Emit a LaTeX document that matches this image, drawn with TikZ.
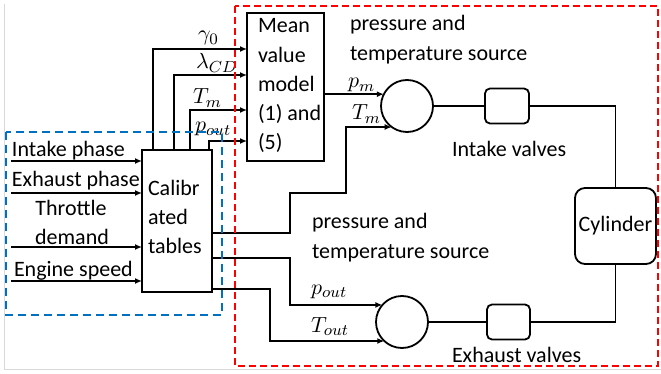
\documentclass[tikz,border=0pt]{standalone}
\usepackage{fontspec}
\setmainfont{Carlito}
\usetikzlibrary{arrows.meta}
\definecolor{myred}{RGB}{255,0,0}
\definecolor{myblue}{RGB}{0,112,192}
\newcommand{\mymth}[1]{{\fontsize{11}{13}\selectfont\scalebox{2}{$#1$}}}
\begin{document}
\begin{tikzpicture}[x=1pt,y=-1pt,
  every node/.style={font=\fontsize{22}{29}\selectfont, inner sep=0pt, outer sep=0pt},
  txt/.style={anchor=base west},
  box/.style={draw, line width=1.8pt},
  roundbox/.style={draw, line width=1.8pt},
  arr/.style={-{Latex[length=7pt,width=6pt]}, line width=1.5pt},
  wire/.style={line width=1.5pt}]
\useasboundingbox (0,0) rectangle (661,374);
% faint page frame
\draw[gray!30, line width=0.8pt] (4,4) -- (4,369) -- (661,369);

% blocks
\node[box, minimum width=70pt, minimum height=142pt] (calib) at (177,221) {};
\node[box, minimum width=77pt, minimum height=148pt] (mvm) at (285.5,87) {};
\node[roundbox, circle, minimum size=52pt] (c1) at (407,106) {};
\node[roundbox, circle, minimum size=52pt] (c2) at (402,322) {};
\node[roundbox, rounded corners=5pt, minimum width=44pt, minimum height=35pt] (v1) at (507,106) {};
\node[roundbox, rounded corners=5pt, minimum width=43pt, minimum height=35pt] (v2) at (508.5,322) {};
\node[roundbox, rounded corners=10pt, minimum width=81pt, minimum height=76pt] (cyl) at (615.5,226) {Cylinder};

% texts in boxes
\node[txt] (m1) at (258,33) {Mean};
\node[txt] (m2) at (258,63) {value};
\node[txt] (m3) at (258,92) {model};
\node[txt] (m4) at (258,121) {(1) and};
\node[txt] (m5) at (258,150) {(5)};
\node[txt] (k1) at (148,196) {Calibr};
\node[txt] (k2) at (148,225) {ated};
\node[txt] (k3) at (148,253) {tables};

% input labels
\node[txt] (i1) at (12,157) {Intake phase};
\node[txt] (i2) at (12,187) {Exhaust phase};
\node[anchor=base] (i3) at (71,215) {Throttle};
\node[anchor=base] (i4) at (72,244) {demand};
\node[txt] (i5) at (14,276) {Engine speed};

% other labels
\node[txt] (s1) at (350,31) {pressure and};
\node[txt] (s2) at (350,61) {temperature source};
\node[txt] (s3) at (312,229) {pressure and};
\node[txt] (s4) at (312,258) {temperature source};
\node[txt] (iv) at (452,157) {Intake valves};
\node[txt] (ev) at (452,362) {Exhaust valves};

% math labels
\node[txt] (g0) at (198,41) {\mymth{\gamma_0}};
\node[txt] (lcd) at (196,69) {\mymth{\lambda_{CD}}};
\node[txt] (tm1) at (193,104) {\mymth{T_m}};
\node[txt] (po1) at (195,132) {\mymth{p_{out}}};
\node[txt] (pm2) at (348,88) {\mymth{p_m}};
\node[txt] (tm2) at (352,120) {\mymth{T_m}};
\node[txt] (po2) at (311,294) {\mymth{p_{out}}};
\node[txt] (to2) at (311,332) {\mymth{T_{out}}};

% inputs
\coordinate (L) at (11,0);
\draw[arr] ([yshift=60pt]calib.west -| L) -- ([yshift=60pt]calib.west);
\draw[arr] ([yshift=28pt]calib.west -| L) -- ([yshift=28pt]calib.west);
\draw[arr] ([yshift=-26pt]calib.west -| L) -- ([yshift=-26pt]calib.west);
\draw[arr] ([yshift=-60pt]calib.west -| L) -- ([yshift=-60pt]calib.west);

% calib -> mean value model
\draw[arr] ([xshift=-24pt]calib.north) |- ([yshift=38pt]mvm.west);
\draw[arr] ([xshift=-3pt]calib.north) |- ([yshift=12pt]mvm.west);
\draw[arr] ([xshift=13pt]calib.north) |- ([yshift=-23pt]mvm.west);
\draw[arr] ([xshift=32pt]calib.north) |- ([yshift=-54pt]mvm.west);

% to sources
\draw[arr] (mvm.east |- c1.153) -- (c1.153);
\draw[arr] ([yshift=-12pt]calib.east) -- (290,233) -- (290,193) -- (346,193) |- (c1.234);
\draw[arr] ([yshift=-37pt]calib.east) -- (290,258) |- (c2.139);
\draw[arr] ([yshift=-68pt]calib.east) -- (270,289) |- (c2.227);

% flow path
\draw[wire] (c1) -- (v1);
\draw[wire] (v1.east) -| (cyl.north);
\draw[wire] (cyl.south) |- (v2.east);
\draw[wire] (v2) -- (c2);

% dashed regions
\draw[myblue, line width=1.8pt, dash pattern=on 8pt off 5pt] (6,132) rectangle (222,315);
\draw[myred, line width=1.8pt, dash pattern=on 7pt off 4pt] (235,6) rectangle (658,366);
\end{tikzpicture}
\end{document}
